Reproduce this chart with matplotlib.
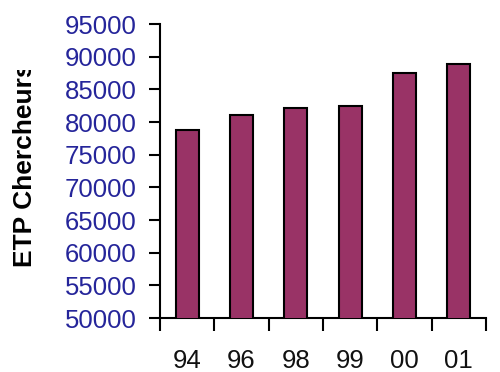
import matplotlib.pyplot as plt
import matplotlib.transforms as mtransforms
import numpy as np

# Chercheurs en équivalent temps plein, par année
years = ['94', '96', '98', '99', '00', '01']
etp = [78800, 81100, 82100, 82500, 87600, 88900]

plt.rcParams['font.family'] = ['Liberation Sans', 'DejaVu Sans']

fig = plt.figure(figsize=(5, 3.72), dpi=100)
ax = fig.add_axes([0.32, 0.145, 0.652, 0.79])

x = np.arange(len(years))
ax.bar(x, etp, width=0.42, color='#993366', edgecolor='black', linewidth=1.5, zorder=3)

ax.set_xlim(-0.5, len(years) - 0.5)
ax.set_ylim(50000, 95000)
ax.set_yticks(np.arange(50000, 95001, 5000))
ax.tick_params(axis='y', labelsize=18.5, labelcolor='#25259a', length=8, width=1.5,
               direction='out', pad=9)

# labels at category centres, tick marks at category boundaries
ax.set_xticks(x)
ax.set_xticklabels(years)
ax.set_xticks(np.arange(-0.5, len(years)), minor=True)
ax.tick_params(axis='x', which='major', length=0, labelsize=18.5, pad=22, labelcolor='#111111')
ax.tick_params(axis='x', which='minor', length=9, width=1.5, direction='out')

for side in ['top', 'right']:
    ax.spines[side].set_visible(False)
for side in ['left', 'bottom']:
    ax.spines[side].set_linewidth(1.5)

lab = ax.set_ylabel('ETP Chercheurs', fontsize=19, fontweight='bold')
ax.yaxis.set_label_coords(-0.377, 0.522)
# the label runs off the top of the chart area and is cut there
clip = mtransforms.Bbox.from_extents(0, 0, 500, 302)
lab.set_clip_box(clip)
lab.set_clip_on(True)

fig.savefig('out.png', dpi=100)
